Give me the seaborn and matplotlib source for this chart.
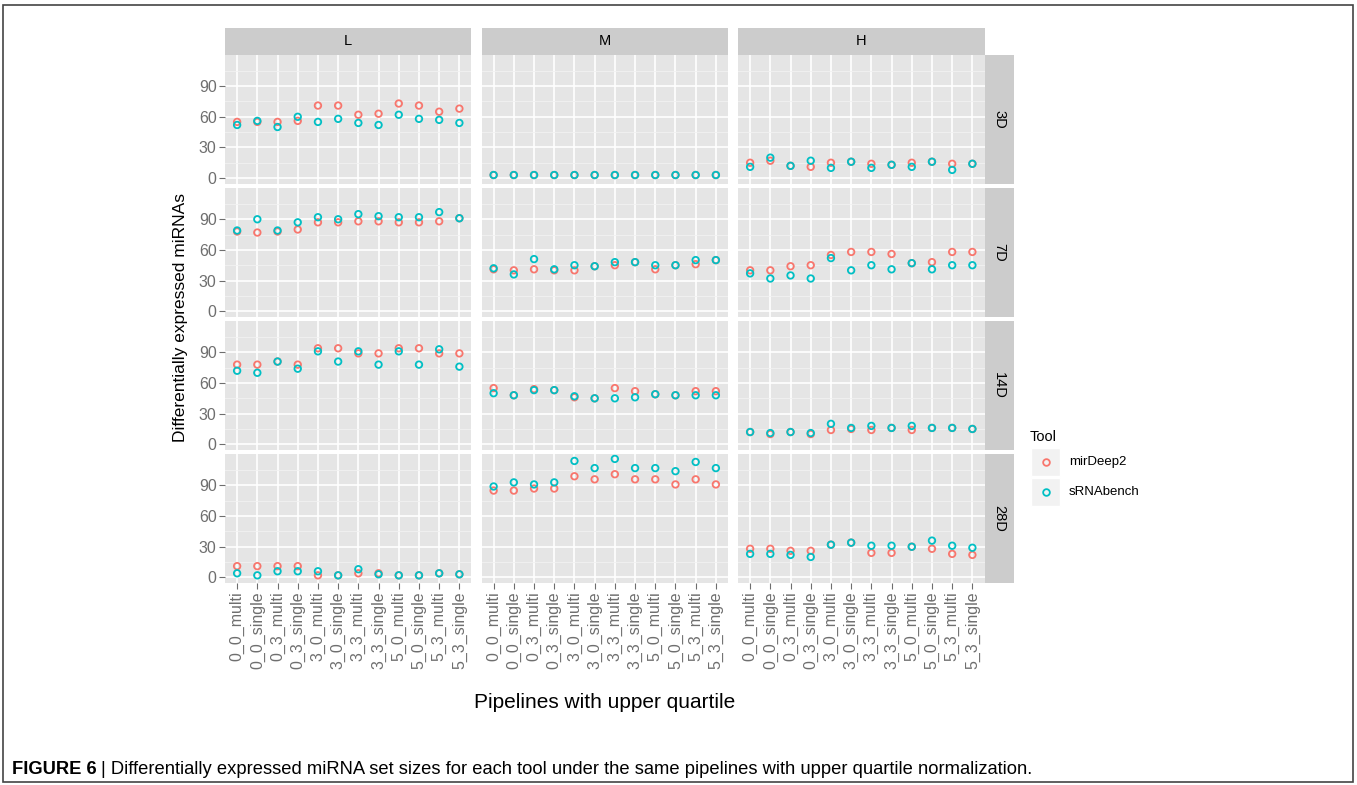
import matplotlib
matplotlib.use('Agg')
import matplotlib.pyplot as plt
import pandas as pd
import seaborn as sns
from matplotlib.patches import Rectangle
from matplotlib.lines import Line2D

pipelines = ['0_0_multi', '0_0_single', '0_3_multi', '0_3_single',
             '3_0_multi', '3_0_single', '3_3_multi', '3_3_single',
             '5_0_multi', '5_0_single', '5_3_multi', '5_3_single']
levels = ['L', 'M', 'H']
days = ['3D', '7D', '14D', '28D']
tools = ['mirDeep2', 'sRNAbench']

# mirDeep2 counts per panel
mirdeep2_3D_L = [55, 55, 55, 56, 71, 71, 62, 63, 73, 71, 65, 68]
mirdeep2_3D_M = [3, 3, 3, 3, 3, 3, 3, 3, 3, 3, 3, 3]
mirdeep2_3D_H = [15, 17, 12, 11, 15, 16, 14, 13, 15, 16, 14, 14]
mirdeep2_7D_L = [78, 77, 78, 80, 87, 87, 88, 88, 87, 87, 88, 91]
mirdeep2_7D_M = [41, 40, 41, 40, 40, 44, 45, 48, 41, 45, 46, 50]
mirdeep2_7D_H = [40, 40, 44, 45, 55, 58, 58, 56, 47, 48, 58, 58]
mirdeep2_14D_L = [78, 78, 81, 78, 94, 94, 89, 89, 94, 94, 89, 89]
mirdeep2_14D_M = [55, 48, 54, 53, 46, 45, 55, 52, 49, 48, 52, 52]
mirdeep2_14D_H = [12, 10, 12, 10, 14, 15, 14, 16, 14, 16, 16, 15]
mirdeep2_28D_L = [11, 11, 11, 11, 2, 2, 4, 4, 2, 2, 4, 3]
mirdeep2_28D_M = [85, 85, 87, 87, 99, 96, 101, 96, 96, 91, 96, 91]
mirdeep2_28D_H = [28, 28, 26, 26, 32, 34, 24, 24, 30, 28, 23, 22]

# sRNAbench counts per panel
srnabench_3D_L = [52, 56, 50, 60, 55, 58, 54, 52, 62, 58, 57, 54]
srnabench_3D_M = [3, 3, 3, 3, 3, 3, 3, 3, 3, 3, 3, 3]
srnabench_3D_H = [11, 20, 12, 17, 10, 16, 10, 13, 11, 16, 8, 14]
srnabench_7D_L = [79, 90, 79, 87, 92, 90, 95, 93, 92, 92, 97, 91]
srnabench_7D_M = [42, 36, 51, 41, 45, 44, 48, 48, 45, 45, 50, 50]
srnabench_7D_H = [37, 32, 35, 32, 52, 40, 45, 41, 47, 41, 45, 45]
srnabench_14D_L = [72, 70, 81, 74, 91, 81, 91, 78, 91, 78, 93, 76]
srnabench_14D_M = [50, 48, 53, 53, 47, 45, 45, 46, 49, 48, 48, 48]
srnabench_14D_H = [12, 11, 12, 11, 20, 16, 18, 16, 18, 16, 16, 15]
srnabench_28D_L = [4, 2, 6, 6, 6, 2, 8, 3, 2, 2, 4, 3]
srnabench_28D_M = [89, 93, 91, 93, 114, 107, 116, 107, 107, 104, 113, 107]
srnabench_28D_H = [23, 23, 22, 20, 32, 34, 31, 31, 30, 36, 31, 29]

panels = {
    ('3D', 'L'): (mirdeep2_3D_L, srnabench_3D_L),
    ('3D', 'M'): (mirdeep2_3D_M, srnabench_3D_M),
    ('3D', 'H'): (mirdeep2_3D_H, srnabench_3D_H),
    ('7D', 'L'): (mirdeep2_7D_L, srnabench_7D_L),
    ('7D', 'M'): (mirdeep2_7D_M, srnabench_7D_M),
    ('7D', 'H'): (mirdeep2_7D_H, srnabench_7D_H),
    ('14D', 'L'): (mirdeep2_14D_L, srnabench_14D_L),
    ('14D', 'M'): (mirdeep2_14D_M, srnabench_14D_M),
    ('14D', 'H'): (mirdeep2_14D_H, srnabench_14D_H),
    ('28D', 'L'): (mirdeep2_28D_L, srnabench_28D_L),
    ('28D', 'M'): (mirdeep2_28D_M, srnabench_28D_M),
    ('28D', 'H'): (mirdeep2_28D_H, srnabench_28D_H),
}

rows = []
for (day, lev), (md, sr) in panels.items():
    for tool, vals in zip(tools, (md, sr)):
        for p, v in zip(pipelines, vals):
            rows.append({'Day': day, 'Level': lev, 'Tool': tool, 'Pipeline': p, 'Count': v})
df = pd.DataFrame(rows)

colors = {'mirDeep2': '#F8766D', 'sRNAbench': '#00BFC4'}
tick_grey = '#6E6E6E'
font = 'Liberation Sans'
plt.rcParams['font.family'] = [font, 'DejaVu Sans']

W, H = 1357, 785
fig = plt.figure(figsize=(W / 100, H / 100), dpi=100)


def rect(x, y, w, h):
    return [x / W, 1 - (y + h) / H, w / W, h / H]


col_x = [225, 481.5, 738]
col_w = 246.5
row_y = [54.5, 187.6, 320.7, 453.8]
row_h = 129.5

for i, day in enumerate(days):
    for j, lev in enumerate(levels):
        ax = fig.add_axes(rect(col_x[j], row_y[i], col_w, row_h))
        sub = df[(df.Day == day) & (df.Level == lev)]
        sns.scatterplot(data=sub, x='Pipeline', y='Count', hue='Tool', hue_order=tools,
                        palette=colors, ax=ax, legend=False, s=22, linewidth=1.3)
        for coll in ax.collections:
            fc = coll.get_facecolors()
            coll.set_edgecolors(fc)
            coll.set_facecolors('none')
        ax.set_facecolor('#E5E5E5')
        ax.set_xlim(-0.6, 11.6)
        ax.set_ylim(-5.8, 121)
        ax.set_xticks(range(len(pipelines)))
        ax.set_yticks([0, 30, 60, 90])
        ax.set_yticks([15, 45, 75, 105], minor=True)
        ax.set_axisbelow(True)
        ax.grid(which='major', color='white', lw=1.2)
        ax.grid(which='minor', axis='y', color='#F2F2F2', lw=0.6)
        for s in ax.spines.values():
            s.set_visible(False)
        ax.set_xlabel('')
        ax.set_ylabel('')
        ax.tick_params(which='minor', length=0)
        if j == 0:
            ax.tick_params(axis='y', length=4, color=tick_grey, labelcolor=tick_grey,
                           labelsize=11.5, pad=2)
        else:
            ax.tick_params(axis='y', length=0, labelleft=False)
        if i == len(days) - 1:
            ax.set_xticklabels(pipelines, rotation=90, va='top', ha='center')
            ax.tick_params(axis='x', length=4, color=tick_grey, labelcolor=tick_grey,
                           labelsize=11.5, pad=2)
        else:
            ax.tick_params(axis='x', length=0, labelbottom=False)

        if i == 0:
            sax = fig.add_axes(rect(col_x[j], 27.5, col_w, 27))
            sax.set_facecolor('#CCCCCC')
            sax.set_xticks([])
            sax.set_yticks([])
            for s in sax.spines.values():
                s.set_visible(False)
            sax.text(0.5, 0.5, lev, ha='center', va='center', fontsize=10.5,
                     transform=sax.transAxes)
        if j == len(levels) - 1:
            rax = fig.add_axes(rect(984.5, row_y[i], 29, row_h))
            rax.set_facecolor('#CCCCCC')
            rax.set_xticks([])
            rax.set_yticks([])
            for s in rax.spines.values():
                s.set_visible(False)
            rax.text(0.5, 0.5, day, ha='center', va='center', rotation=-90, fontsize=10.5,
                     transform=rax.transAxes)

# axis titles
fig.text(605 / W, 1 - 703 / H, 'Pipelines with upper quartile', ha='center', va='center',
         fontsize=15)
fig.text(180 / W, 1 - 318 / H, 'Differentially expressed miRNAs', ha='center', va='center',
         rotation=90, fontsize=12.5)

# legend
fig.text(1030 / W, 1 - 437 / H, 'Tool', ha='left', va='center', fontsize=10.5)
for k, tool in enumerate(tools):
    yc = 462 + 30 * k
    fig.add_artist(Rectangle(((1031) / W, 1 - (yc + 14) / H), 29 / W, 28 / H,
                             transform=fig.transFigure, fc='#F2F2F2', ec='white', lw=1))
    fig.add_artist(Line2D([1045.5 / W], [1 - yc / H], transform=fig.transFigure, marker='o',
                          ms=4.8, mfc='none', mec=colors[tool], mew=1.3, ls='none'))
    fig.text(1069 / W, 1 - yc / H, tool, ha='left', va='center', fontsize=9.5)

# caption and frame
fig.add_artist(Rectangle((3 / W, 3 / H), (W - 7) / W, (H - 8) / H, transform=fig.transFigure,
                         fill=False, ec='#444444', lw=1.2))
t1 = fig.text(12 / W, 1 - 770 / H, 'FIGURE 6', ha='left', va='center', fontsize=13.2,
              fontweight='bold')
fig.canvas.draw()
bb = t1.get_window_extent()
fig.text((bb.x1 + 4) / W, 1 - 770 / H,
         '| Differentially expressed miRNA set sizes for each tool under the same pipelines with upper quartile normalization.',
         ha='left', va='center', fontsize=13.2)

fig.savefig('out.png', dpi=100)
